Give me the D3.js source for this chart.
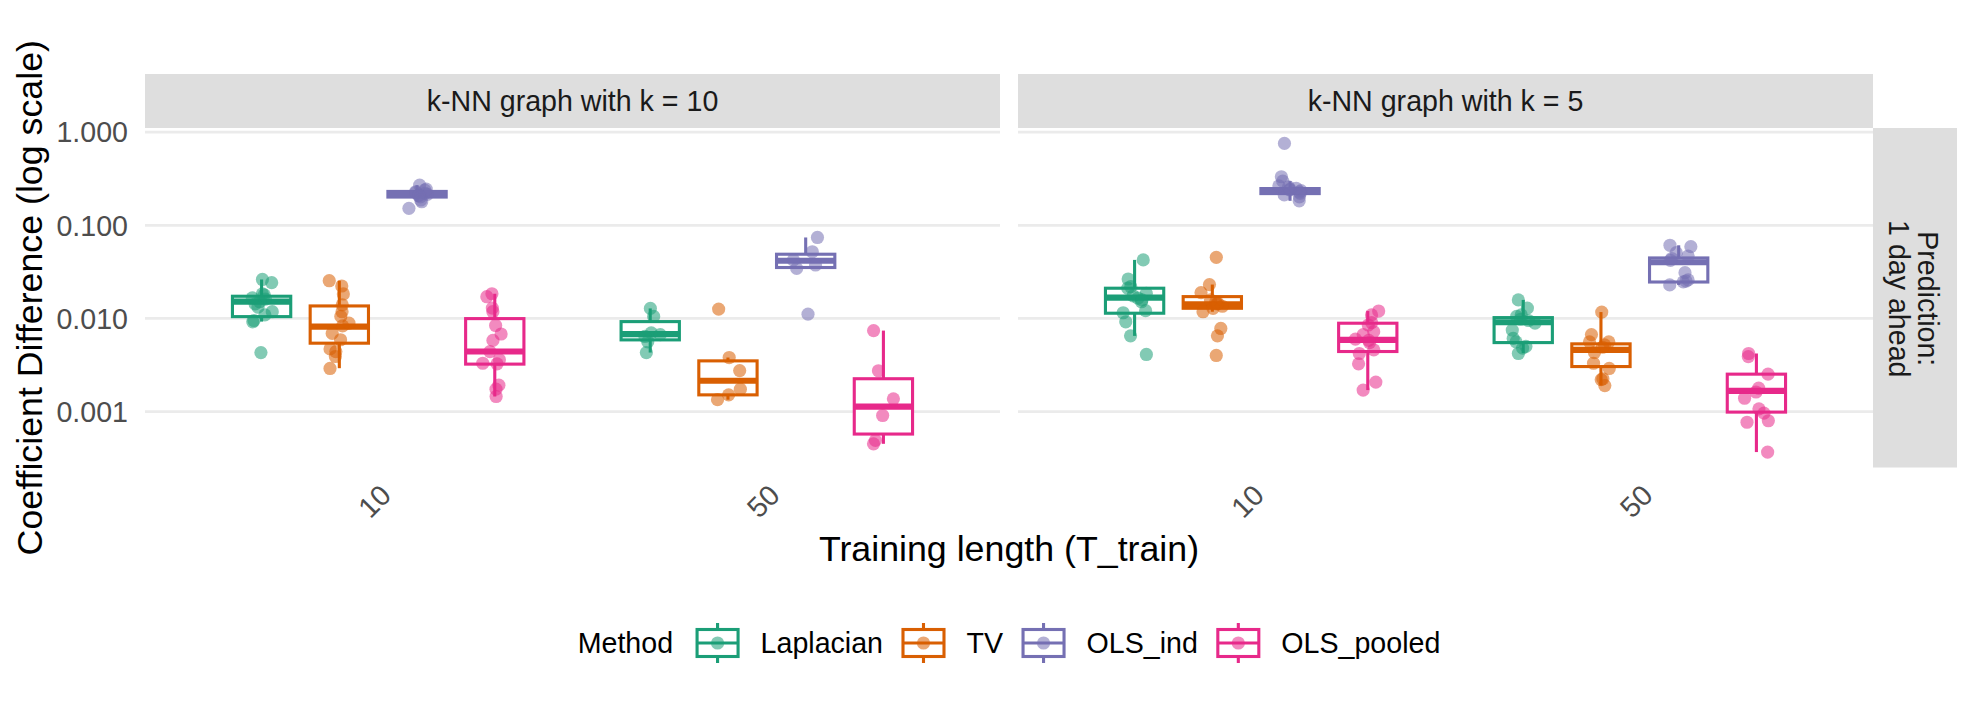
<!DOCTYPE html>
<html><head><meta charset="utf-8">
<script src="https://cdn.jsdelivr.net/npm/d3@7"></script>
<style>
body{margin:0;background:#fff}
text{font-family:"Liberation Sans",Arial,Helvetica,sans-serif}
</style>
</head><body><svg id="chart" width="1975" height="704"></svg>
<script>
// ---------------- data ----------------
const methods = ["Laplacian", "TV", "OLS_ind", "OLS_pooled"];
const methodColors = ["#1B9E77", "#D95F02", "#7570B3", "#E7298A"];
const facetLabels = ["k-NN graph with k = 10", "k-NN graph with k = 5"];
const rowLabel = ["Prediction:", "1 day ahead"];
const trainLengths = ["10", "50"];
const yTickValues = [1, 0.1, 0.01, 0.001];
const yTickLabels = ["1.000", "0.100", "0.010", "0.001"];

// cells in order: [k=10,T=10], [k=10,T=50], [k=5,T=10], [k=5,T=50]
// box stats: [lower whisker, q1, median, q3, upper whisker]
const boxLaplacian = [
  [0.00924, 0.01045, 0.01514, 0.0173, 0.0262],
  [0.0043, 0.00588, 0.00677, 0.00924, 0.0128],
  [0.00649, 0.01137, 0.0167, 0.0211, 0.0425],
  [0.00424, 0.0055, 0.0091, 0.0102, 0.0158]
];
const boxTV = [
  [0.00292, 0.00542, 0.00817, 0.01361, 0.0254],
  [0.00134, 0.00151, 0.00214, 0.0035, 0.0038],
  [0.0118, 0.01285, 0.01419, 0.01714, 0.0231],
  [0.0019, 0.00304, 0.00459, 0.00533, 0.0117]
];
const boxOLSind = [
  [0.179, 0.201, 0.216, 0.231, 0.270],
  [0.0345, 0.0352, 0.0416, 0.0489, 0.074],
  [0.183, 0.219, 0.233, 0.248, 0.298],
  [0.0229, 0.0246, 0.0401, 0.0446, 0.061]
];
const boxOLSpooled = [
  [0.00145, 0.00323, 0.00441, 0.00995, 0.0184],
  [0.00045, 0.000573, 0.00113, 0.00225, 0.0074],
  [0.0017, 0.00441, 0.00588, 0.00888, 0.012],
  [0.000367, 0.000986, 0.00167, 0.00252, 0.0042]
];

const ptsLaplacian = [
  [0.0262, 0.0242, 0.0179, 0.0183, 0.0161, 0.0151, 0.0143, 0.0132, 0.0109, 0.0095, 0.0092, 0.0043, 0.0118, 0.0166],
  [0.0128, 0.0105, 0.0070, 0.0067, 0.0064, 0.0056, 0.0043],
  [0.0425, 0.0265, 0.0219, 0.0211, 0.0186, 0.0165, 0.0151, 0.0115, 0.0121, 0.0092, 0.0065, 0.0041, 0.0175, 0.0158],
  [0.0158, 0.0129, 0.0109, 0.0105, 0.0089, 0.0075, 0.0061, 0.0048, 0.0050, 0.0042, 0.0056, 0.0095, 0.0098]
];
const ptsTV = [
  [0.0254, 0.0223, 0.0183, 0.0140, 0.0118, 0.0105, 0.0089, 0.0083, 0.0069, 0.0059, 0.0044, 0.0039, 0.0029, 0.0047],
  [0.0126, 0.0038, 0.00275, 0.00174, 0.00151, 0.00134],
  [0.0453, 0.0231, 0.0189, 0.0158, 0.0145, 0.0143, 0.0118, 0.0078, 0.0065, 0.0040, 0.0135, 0.0150, 0.0128],
  [0.0117, 0.0067, 0.0056, 0.0056, 0.0043, 0.0033, 0.0029, 0.00225, 0.0022, 0.0019, 0.0049, 0.0052]
];
const ptsOLSind = [
  [0.270, 0.239, 0.229, 0.220, 0.211, 0.202, 0.187, 0.179, 0.152, 0.225, 0.215, 0.245, 0.208],
  [0.074, 0.0520, 0.0375, 0.0345, 0.0111, 0.0424],
  [0.757, 0.332, 0.298, 0.243, 0.236, 0.202, 0.183, 0.220, 0.259, 0.228, 0.250, 0.212, 0.265, 0.240],
  [0.061, 0.0589, 0.0508, 0.0468, 0.0310, 0.0252, 0.0229, 0.0247, 0.0259, 0.0440, 0.0420]
];
const ptsOLSpooled = [
  [0.0184, 0.0171, 0.0129, 0.0118, 0.0084, 0.0068, 0.0058, 0.0044, 0.0036, 0.0033, 0.00325, 0.00192, 0.00174, 0.00145],
  [0.0074, 0.00274, 0.00137, 0.000907, 0.00049, 0.00045],
  [0.012, 0.0109, 0.0090, 0.0085, 0.0072, 0.0067, 0.0055, 0.0042, 0.0046, 0.00325, 0.00207, 0.0017, 0.0060, 0.0058],
  [0.0042, 0.00389, 0.00252, 0.00178, 0.00162, 0.00139, 0.00107, 0.00096, 0.000796, 0.000767, 0.000367]
];

const boxSets = [boxLaplacian, boxTV, boxOLSind, boxOLSpooled];
const pointSets = [ptsLaplacian, ptsTV, ptsOLSind, ptsOLSpooled];

// ---------------- layout ----------------
const svg = d3.select("#chart");
const FONT_SMALL = 28.6, FONT_BIG = 35.75;
const panelTop = 128, panelBottom = 467.5;
const panelLefts = [145, 1018], panelWidth = 855;
const stripTop = 74;
const rightStripW = 84;
const gridColor = "#EBEBEB", stripFill = "#DEDEDE";
const GW = 2.8, LW = 3.1, PR = 6.6, PA = 0.55;

// y scale (log) with 5% expansion on log scale
const allVals = [];
boxSets.forEach(bs => bs.forEach(c => c.forEach(v => allVals.push(v))));
pointSets.forEach(ps => ps.forEach(c => c.forEach(v => allVals.push(v))));
const [vmin, vmax] = d3.extent(allVals);
const lmin = Math.log10(vmin), lmax = Math.log10(vmax), pad = 0.05 * (lmax - lmin);
const y = d3.scaleLog().domain([10 ** (lmin - pad), 10 ** (lmax + pad)]).range([panelBottom, panelTop]);

// deterministic jitter
let seed = 20240611;
function rnd() { seed = (seed * 1664525 + 1013904223) % 4294967296; return seed / 4294967296; }

facetLabels.forEach((flab, fi) => {
  const x0 = panelLefts[fi];
  const x = d3.scalePoint().domain(trainLengths).range([x0, x0 + panelWidth]).padding(0.6);
  const step = x.step();
  const g = svg.append("g");

  // strip
  g.append("rect").attr("x", x0).attr("y", stripTop).attr("width", panelWidth).attr("height", panelTop - stripTop).attr("fill", stripFill);
  g.append("text").attr("x", x0 + panelWidth / 2).attr("y", (stripTop + panelTop) / 2).attr("dy", "0.358em")
    .attr("text-anchor", "middle").attr("font-size", FONT_SMALL).attr("fill", "#1A1A1A").text(flab);

  // grid
  g.selectAll("line.grid").data(yTickValues).join("line")
    .attr("x1", x0).attr("x2", x0 + panelWidth).attr("y1", d => y(d)).attr("y2", d => y(d))
    .attr("stroke", gridColor).attr("stroke-width", GW);

  // x tick labels
  trainLengths.forEach(t => {
    g.append("text").attr("transform", `translate(${x(t)},${panelBottom + 15}) rotate(-45)`)
      .attr("text-anchor", "end").attr("dy", "0.72em")
      .attr("font-size", FONT_SMALL).attr("fill", "#4D4D4D").text(t);
  });

  const boxW = 0.15 * step;
  // boxes
  methods.forEach((m, mi) => {
    trainLengths.forEach((t, ti) => {
      const s = boxSets[mi][fi * 2 + ti];
      const cx = x(t) + (mi - 1.5) * 0.2 * step;
      const col = methodColors[mi];
      g.append("line").attr("x1", cx).attr("x2", cx).attr("y1", y(s[3])).attr("y2", y(s[4])).attr("stroke", col).attr("stroke-width", LW);
      g.append("line").attr("x1", cx).attr("x2", cx).attr("y1", y(s[1])).attr("y2", y(s[0])).attr("stroke", col).attr("stroke-width", LW);
      g.append("rect").attr("x", cx - boxW / 2).attr("width", boxW)
        .attr("y", y(s[3])).attr("height", y(s[1]) - y(s[3]))
        .attr("fill", "#fff").attr("stroke", col).attr("stroke-width", LW);
      g.append("line").attr("x1", cx - boxW / 2).attr("x2", cx + boxW / 2).attr("y1", y(s[2])).attr("y2", y(s[2]))
        .attr("stroke", col).attr("stroke-width", LW * 2);
    });
  });
  // points
  methods.forEach((m, mi) => {
    trainLengths.forEach((t, ti) => {
      const pts = pointSets[mi][fi * 2 + ti];
      const cx = x(t) + (mi - 1.5) * 0.2 * step;
      pts.forEach(v => {
        const jx = (rnd() * 2 - 1) * 0.032 * step;
        g.append("circle").attr("cx", cx + jx).attr("cy", y(v)).attr("r", PR)
          .attr("fill", methodColors[mi]).attr("fill-opacity", PA);
      });
    });
  });
});

// right strip
const rsx = panelLefts[1] + panelWidth;
svg.append("rect").attr("x", rsx).attr("y", panelTop).attr("width", rightStripW).attr("height", panelBottom - panelTop).attr("fill", stripFill);
const rt = svg.append("text").attr("transform", `translate(${rsx + 42},${(panelTop + panelBottom) / 2 + 1}) rotate(90)`)
  .attr("text-anchor", "middle").attr("font-size", FONT_SMALL).attr("fill", "#1A1A1A");
rt.append("tspan").attr("x", 0).attr("y", -3.3).text(rowLabel[0]);
rt.append("tspan").attr("x", 0).attr("y", 26.5).text(rowLabel[1]);

// y tick labels
svg.selectAll("text.ytick").data(yTickValues).join("text")
  .attr("x", 128).attr("y", d => y(d)).attr("dy", "0.358em").attr("text-anchor", "end")
  .attr("font-size", FONT_SMALL).attr("fill", "#4D4D4D").text((d, i) => yTickLabels[i]);

// axis titles
const plotCx = (panelLefts[0] + panelLefts[1] + panelWidth) / 2;
svg.append("text").attr("x", plotCx).attr("y", 561).attr("text-anchor", "middle")
  .attr("font-size", FONT_BIG).attr("fill", "#000").text("Training length (T_train)");
svg.append("text").attr("transform", `translate(41.5,${(panelTop + panelBottom) / 2}) rotate(-90)`)
  .attr("text-anchor", "middle").attr("font-size", FONT_BIG).attr("fill", "#000").text("Coefficient Difference (log scale)");

// legend
const leg = svg.append("g");
const legY = 643;
const title = leg.append("text").attr("x", 0).attr("y", legY).attr("dy", "0.358em").attr("font-size", FONT_SMALL).attr("fill", "#000").text("Method");
let cur = title.node().getComputedTextLength() + 24;
const keyW = 41, keyH = 27;
methods.forEach((m, mi) => {
  const col = methodColors[mi];
  const kc = cur + keyW / 2;
  leg.append("line").attr("x1", kc).attr("x2", kc).attr("y1", legY - 20).attr("y2", legY + 20).attr("stroke", col).attr("stroke-width", LW);
  leg.append("rect").attr("x", cur).attr("y", legY - keyH / 2).attr("width", keyW).attr("height", keyH)
    .attr("fill", "#fff").attr("stroke", col).attr("stroke-width", LW);
  leg.append("line").attr("x1", cur).attr("x2", cur + keyW).attr("y1", legY).attr("y2", legY).attr("stroke", col).attr("stroke-width", LW);
  leg.append("circle").attr("cx", kc).attr("cy", legY).attr("r", PR).attr("fill", col).attr("fill-opacity", PA);
  const lt = leg.append("text").attr("x", cur + keyW + 22.5).attr("y", legY).attr("dy", "0.358em")
    .attr("font-size", FONT_SMALL).attr("fill", "#000").text(m);
  cur = cur + keyW + 22.5 + lt.node().getComputedTextLength() + (mi < methods.length - 1 ? 20 : 0);
});
leg.attr("transform", `translate(${plotCx - cur / 2},0)`);
</script>
</body></html>
